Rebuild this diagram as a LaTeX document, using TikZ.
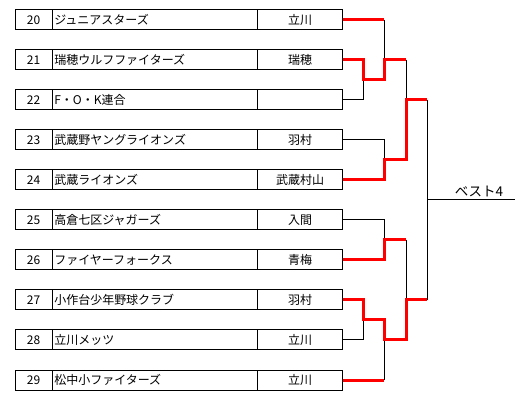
\documentclass[tikz,border=0pt]{standalone}
\usepackage{fontspec}
\setmainfont{Noto Sans CJK JP}
\begin{document}
\begin{tikzpicture}[
    x=1pt,y=-1pt,
    numbox/.style={draw,line width=1pt,minimum width=37pt,minimum height=20pt,inner sep=0pt,font=\fontsize{12}{13}\selectfont},
    teambox/.style={draw,line width=1pt,text width=201pt,inner xsep=2pt,inner ysep=0pt,minimum height=20pt,align=left,font=\fontsize{12}{13}\selectfont},
    citybox/.style={draw,line width=1pt,minimum width=85pt,minimum height=20pt,inner sep=0pt,font=\fontsize{12}{13}\selectfont},
    lose/.style={line width=1pt},
    win/.style={line width=3pt,red}
]
\useasboundingbox (0,0) rectangle (531,401);

\node[numbox] (n20) at (33.5,20) {20};
\node[teambox] (t20) at (154.75,20) {ジュニアスターズ};
\node[citybox] (c20) at (300,20) {立川};

\node[numbox] (n21) at (33.5,60) {21};
\node[teambox] (t21) at (154.75,60) {瑞穂ウルフファイターズ};
\node[citybox] (c21) at (300,60) {瑞穂};

\node[numbox] (n22) at (33.5,100) {22};
\node[teambox] (t22) at (154.75,100) {F・O・K連合};
\node[citybox] (c22) at (300,100) {};

\node[numbox] (n23) at (33.5,140) {23};
\node[teambox] (t23) at (154.75,140) {武蔵野ヤングライオンズ};
\node[citybox] (c23) at (300,140) {羽村};

\node[numbox] (n24) at (33.5,180) {24};
\node[teambox] (t24) at (154.75,180) {武蔵ライオンズ};
\node[citybox] (c24) at (300,180) {武蔵村山};

\node[numbox] (n25) at (33.5,220) {25};
\node[teambox] (t25) at (154.75,220) {高倉七区ジャガーズ};
\node[citybox] (c25) at (300,220) {入間};

\node[numbox] (n26) at (33.5,260) {26};
\node[teambox] (t26) at (154.75,260) {ファイヤーフォークス};
\node[citybox] (c26) at (300,260) {青梅};

\node[numbox] (n27) at (33.5,300) {27};
\node[teambox] (t27) at (154.75,300) {小作台少年野球クラブ};
\node[citybox] (c27) at (300,300) {羽村};

\node[numbox] (n28) at (33.5,340) {28};
\node[teambox] (t28) at (154.75,340) {立川メッツ};
\node[citybox] (c28) at (300,340) {立川};

\node[numbox] (n29) at (33.5,380) {29};
\node[teambox] (t29) at (154.75,380) {松中小ファイターズ};
\node[citybox] (c29) at (300,380) {立川};

% match points
\coordinate (q1) at (363,80);
\coordinate (q2) at (384,60);
\coordinate (q3) at (384,160);
\coordinate (s1) at (406,100);
\coordinate (q4) at (384,240);
\coordinate (q5) at (363,320);
\coordinate (q6) at (384,340);
\coordinate (s2) at (406,300);
\coordinate (f) at (427,200);
\coordinate (best) at (515,200);

\node[font=\fontsize{13.5}{14}\selectfont] (best4) at (479,191) {ベスト4};

% lost lines
\draw[lose] (c20.east -| q2)--(q2);
\draw[lose] (c22.east) -| (q1);
\draw[lose] (q2 -| s1)--(s1);
\draw[lose] (c23.east) -| (q3);
\draw[lose] (c25.east) -| (q4);
\draw[lose] (q4 -| s2)--(s2);
\draw[lose] (c28.east) -| (q5);
\draw[lose] (c29.east -| q6)--(q6);
\draw[lose] (s1 -| f)--(s2 -| f);
\draw[lose] (f)--(best);

% won lines
\draw[win] (c20.east)--(c20.east -| q2);
\draw[win] (c21.east) -| (q1) -| (q2)--(q2 -| s1);
\draw[win] (c24.east) -| (q3) -| (s1)--(s1 -| f);
\draw[win] (c26.east) -| (q4)--(q4 -| s2);
\draw[win] (c27.east) -| (q5) -| (q6) -| (s2)--(s2 -| f);
\draw[win] (c29.east)--(c29.east -| q6);
\end{tikzpicture}
\end{document}
